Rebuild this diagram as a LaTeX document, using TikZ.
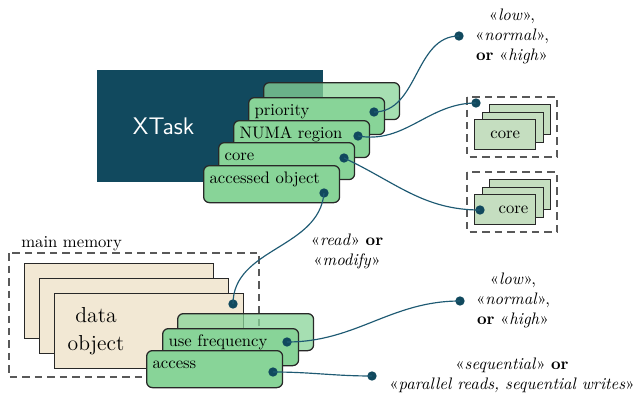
\documentclass[tikz,border=0pt]{standalone}
\usepackage{fontspec}
\usepackage{tikz}

\definecolor{taskblue}{RGB}{17,73,94}
\definecolor{linkblue}{RGB}{30,90,115}
\definecolor{fieldgreen}{RGB}{136,212,152}
\definecolor{coregreen}{RGB}{197,222,192}
\definecolor{objbeige}{RGB}{242,232,212}
\definecolor{boxline}{RGB}{40,40,40}

\begin{document}
\begin{tikzpicture}[x=0.6pt,y=-0.6pt,
	field/.style={draw=boxline,line width=0.75pt,fill=fieldgreen,rounded corners=3.5pt,anchor=north west,
		text width=74.4pt,align=left,inner xsep=3.6pt,inner ysep=0pt,text height=10.5pt,text depth=11.7pt},
	ghost/.style={field,fill opacity=0.75},
	dot/.style={circle,fill=taskblue,inner sep=0pt,minimum size=5.6pt},
	link/.style={draw=linkblue,line width=0.7pt},
	objbox/.style={draw=boxline,line width=0.75pt,fill=objbeige,anchor=north west,minimum width=113.4pt,minimum height=45pt},
	corebox/.style={draw=boxline,line width=0.85pt,fill=coregreen,anchor=north west,minimum width=36.6pt,minimum height=18pt,inner sep=0pt},
	group/.style={draw=black!65,line width=0.8pt,dash pattern=on 4.5pt off 3pt},
	note/.style={align=center,inner sep=0pt}]
		\useasboundingbox (0,0) rectangle (637,398);
		% the task and its fields
		\node (xtask) [fill=taskblue,anchor=north west,minimum height=67.2pt,text width=92.4pt,align=left,inner xsep=21.4pt,
			text=white,font=\Large\sffamily] at (97,70) {XTask};
		\node (tback) [ghost] at (263,82) {};
		\node (prio)  [field] at (248,97)  {priority};
		\node (numa)  [field] at (233,120) {NUMA region};
		\node (core)  [field] at (218,142) {core};
		\node (acc)   [field] at (203,165) {accessed object};
		% core sets
		\draw [group] (467,97) rectangle (557,157);
		\node (ca3) [corebox] at (489,104) {};
		\node (ca2) [corebox] at (482,112) {};
		\node (ca1) [corebox] at (474,119) {core};
		\draw [group] (467,172) rectangle (557,232);
		\node (cb3) [corebox] at (489,179) {};
		\node (cb2) [corebox] at (482,187) {};
		\node (cb1) [corebox] at (474,194) {\hspace{10pt}core};
		% main memory with the data object
		\draw [group] (9,253) rectangle (259,377);
		\node (memlabel) [anchor=base west,inner sep=0pt] at (21,247) {main memory};
		\node (obj3) [objbox] at (24,263) {};
		\node (obj2) [objbox] at (39,278) {};
		\node (obj1) [objbox] at (54,293) {};
		\node (objlabel) [note,font=\fontsize{13}{17}\selectfont] at (96,331) {data\\object};
		\node (oback) [ghost] at (177,313) {};
		\node (freq)  [field] at (162,328) {use frequency};
		\node (mode)  [field] at (146,350) {access};
		% values
		\node (prioval) [note] at (512,36)  {«\textit{low}»,\\«\textit{normal}»,\\\textbf{or} «\textit{high}»};
		\node (accval)  [note] at (347,251) {«\textit{read}» \textbf{or}\\«\textit{modify}»};
		\node (freqval) [note] at (513,300) {«\textit{low}»,\\«\textit{normal}»,\\\textbf{or} «\textit{high}»};
		\node (modeval) [note] at (512,375) {«\textit{sequential}» \textbf{or}\\«\textit{parallel reads, sequential writes}»};
		% dots
		\node (pd)  [dot] at (374,112) {};
		\node (nd)  [dot] at (358,136) {};
		\node (cd)  [dot] at (344,158) {};
		\node (ad)  [dot] at (324,193) {};
		\node (pv)  [dot] at (459,36)  {};
		\node (nv)  [dot] at (476,103) {};
		\node (cv)  [dot] at (480,210) {};
		\node (od)  [dot] at (233,304) {};
		\node (fd)  [dot] at (287,342) {};
		\node (md)  [dot] at (273,372) {};
		\node (fv)  [dot] at (460,301) {};
		\node (mv)  [dot] at (372,376) {};
		% links
		\draw [link] (pd.center) to[out=0,in=180] (pv.center);
		\draw [link] (nd.center) to[out=-10,in=180] (nv.center);
		\draw [link] (cd.center) to[out=-25,in=180] (cv.center);
		\draw [link] (ad.center) to[out=-95,in=90] (od.center);
		\draw [link] (fd.center) to[out=0,in=180] (fv.center);
		\draw [link] (md.center) to[out=0,in=180] (mv.center);
	\end{tikzpicture}
\end{document}
